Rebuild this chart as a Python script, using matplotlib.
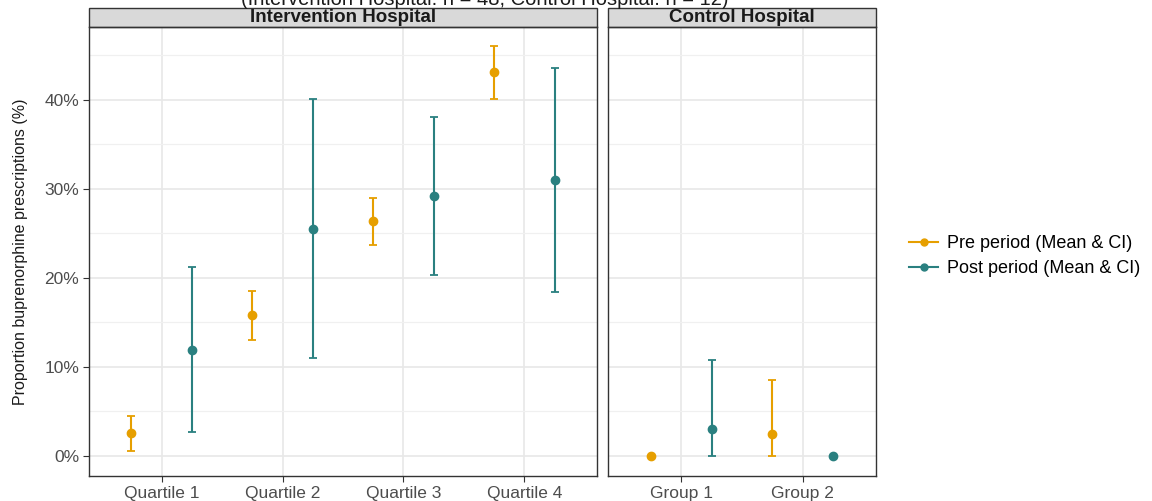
import matplotlib
matplotlib.use('Agg')
import matplotlib.pyplot as plt
from matplotlib.patches import Rectangle
from matplotlib.lines import Line2D
from matplotlib.ticker import PercentFormatter, MultipleLocator

plt.rcParams['font.family'] = ['Liberation Sans', 'DejaVu Sans']

# data (percent)
int_groups = ['Quartile 1', 'Quartile 2', 'Quartile 3', 'Quartile 4']
int_pre_mean = [2.5, 15.8, 26.4, 43.1]
int_pre_lo = [0.5, 13.0, 23.7, 40.1]
int_pre_hi = [4.5, 18.5, 29.0, 46.1]
int_post_mean = [11.9, 25.5, 29.2, 31.0]
int_post_lo = [2.6, 11.0, 20.3, 18.4]
int_post_hi = [21.2, 40.1, 38.1, 43.6]

ctl_groups = ['Group 1', 'Group 2']
ctl_pre_mean = [0.0, 2.4]
ctl_pre_lo = [0.0, 0.0]
ctl_pre_hi = [0.0, 8.5]
ctl_post_mean = [3.0, 0.0]
ctl_post_lo = [0.0, 0.0]
ctl_post_hi = [10.8, 0.0]

pre_col = '#E69F00'
post_col = '#2A8080'
dodge = 0.25

fig = plt.figure(figsize=(11.52, 5.01), dpi=100)
W, H = 1152, 501
ax1 = fig.add_axes([89 / W, 1 - 476 / H, 508 / W, 449 / H])
ax2 = fig.add_axes([608 / W, 1 - 476 / H, 268 / W, 449 / H], sharey=ax1)


def draw_panel(ax, groups, pm, plo, phi, qm, qlo, qhi, strip):
    xs = list(range(len(groups)))
    for off, m, lo, hi, c in [(-dodge, pm, plo, phi, pre_col),
                              (dodge, qm, qlo, qhi, post_col)]:
        x = [i + off for i in xs]
        err = [[a - b for a, b in zip(m, lo)], [b - a for a, b in zip(m, hi)]]
        ax.errorbar(x, m, yerr=err, fmt='o', color=c, ms=6, elinewidth=1.5,
                    capsize=3, capthick=1.3, zorder=3)
    ax.set_xlim(-0.6, len(groups) - 0.4)
    ax.set_xticks(xs)
    ax.set_xticklabels(groups)
    ax.yaxis.set_major_locator(MultipleLocator(10))
    ax.yaxis.set_minor_locator(MultipleLocator(5))
    ax.grid(which='major', color='#E8E8E8', lw=1.2)
    ax.grid(which='minor', axis='y', color='#F0F0F0', lw=0.9)
    ax.set_axisbelow(True)
    for s in ax.spines.values():
        s.set_color('#333333')
        s.set_linewidth(1.0)
    ax.tick_params(which='major', length=4, color='#333333', labelsize=12.5,
                   labelcolor='#4D4D4D', pad=3)
    ax.tick_params(which='minor', length=0)
    ax.add_patch(Rectangle((0, 1), 1, 19 / 449, transform=ax.transAxes,
                           facecolor='#D9D9D9', edgecolor='#333333', lw=1.0,
                           clip_on=False))
    ax.text(0.5, 1 + 9.5 / 449, strip, transform=ax.transAxes, ha='center',
            va='center', fontsize=13.5, fontweight='bold', color='#1A1A1A')


draw_panel(ax1, int_groups, int_pre_mean, int_pre_lo, int_pre_hi,
           int_post_mean, int_post_lo, int_post_hi, 'Intervention Hospital')
draw_panel(ax2, ctl_groups, ctl_pre_mean, ctl_pre_lo, ctl_pre_hi,
           ctl_post_mean, ctl_post_lo, ctl_post_hi, 'Control Hospital')

ax1.set_ylim(-2.3, 48.2)
ax1.yaxis.set_major_formatter(PercentFormatter(xmax=100, decimals=0))
ax2.tick_params(axis='y', which='both', left=False, labelleft=False)
ax1.set_ylabel('Proportion buprenorphine prescriptions (%)', fontsize=11.5,
               color='#1A1A1A', labelpad=12)

fig.text(485 / W, 1 - 5 / H, '(Intervention Hospital: n = 48, Control Hospital: n = 12)',
         ha='center', va='baseline', fontsize=14.5, color='#1A1A1A')

handles = [Line2D([0], [0], color=pre_col, marker='o', ms=5, lw=1.5),
           Line2D([0], [0], color=post_col, marker='o', ms=5, lw=1.5)]
fig.legend(handles, ['Pre period (Mean & CI)', 'Post period (Mean & CI)'],
           loc='center left', bbox_to_anchor=(893 / W, 1 - 256 / H),
           frameon=False, fontsize=13, handlelength=1.6, labelspacing=0.45,
           handletextpad=0.5)

fig.savefig('out.png', dpi=100)
